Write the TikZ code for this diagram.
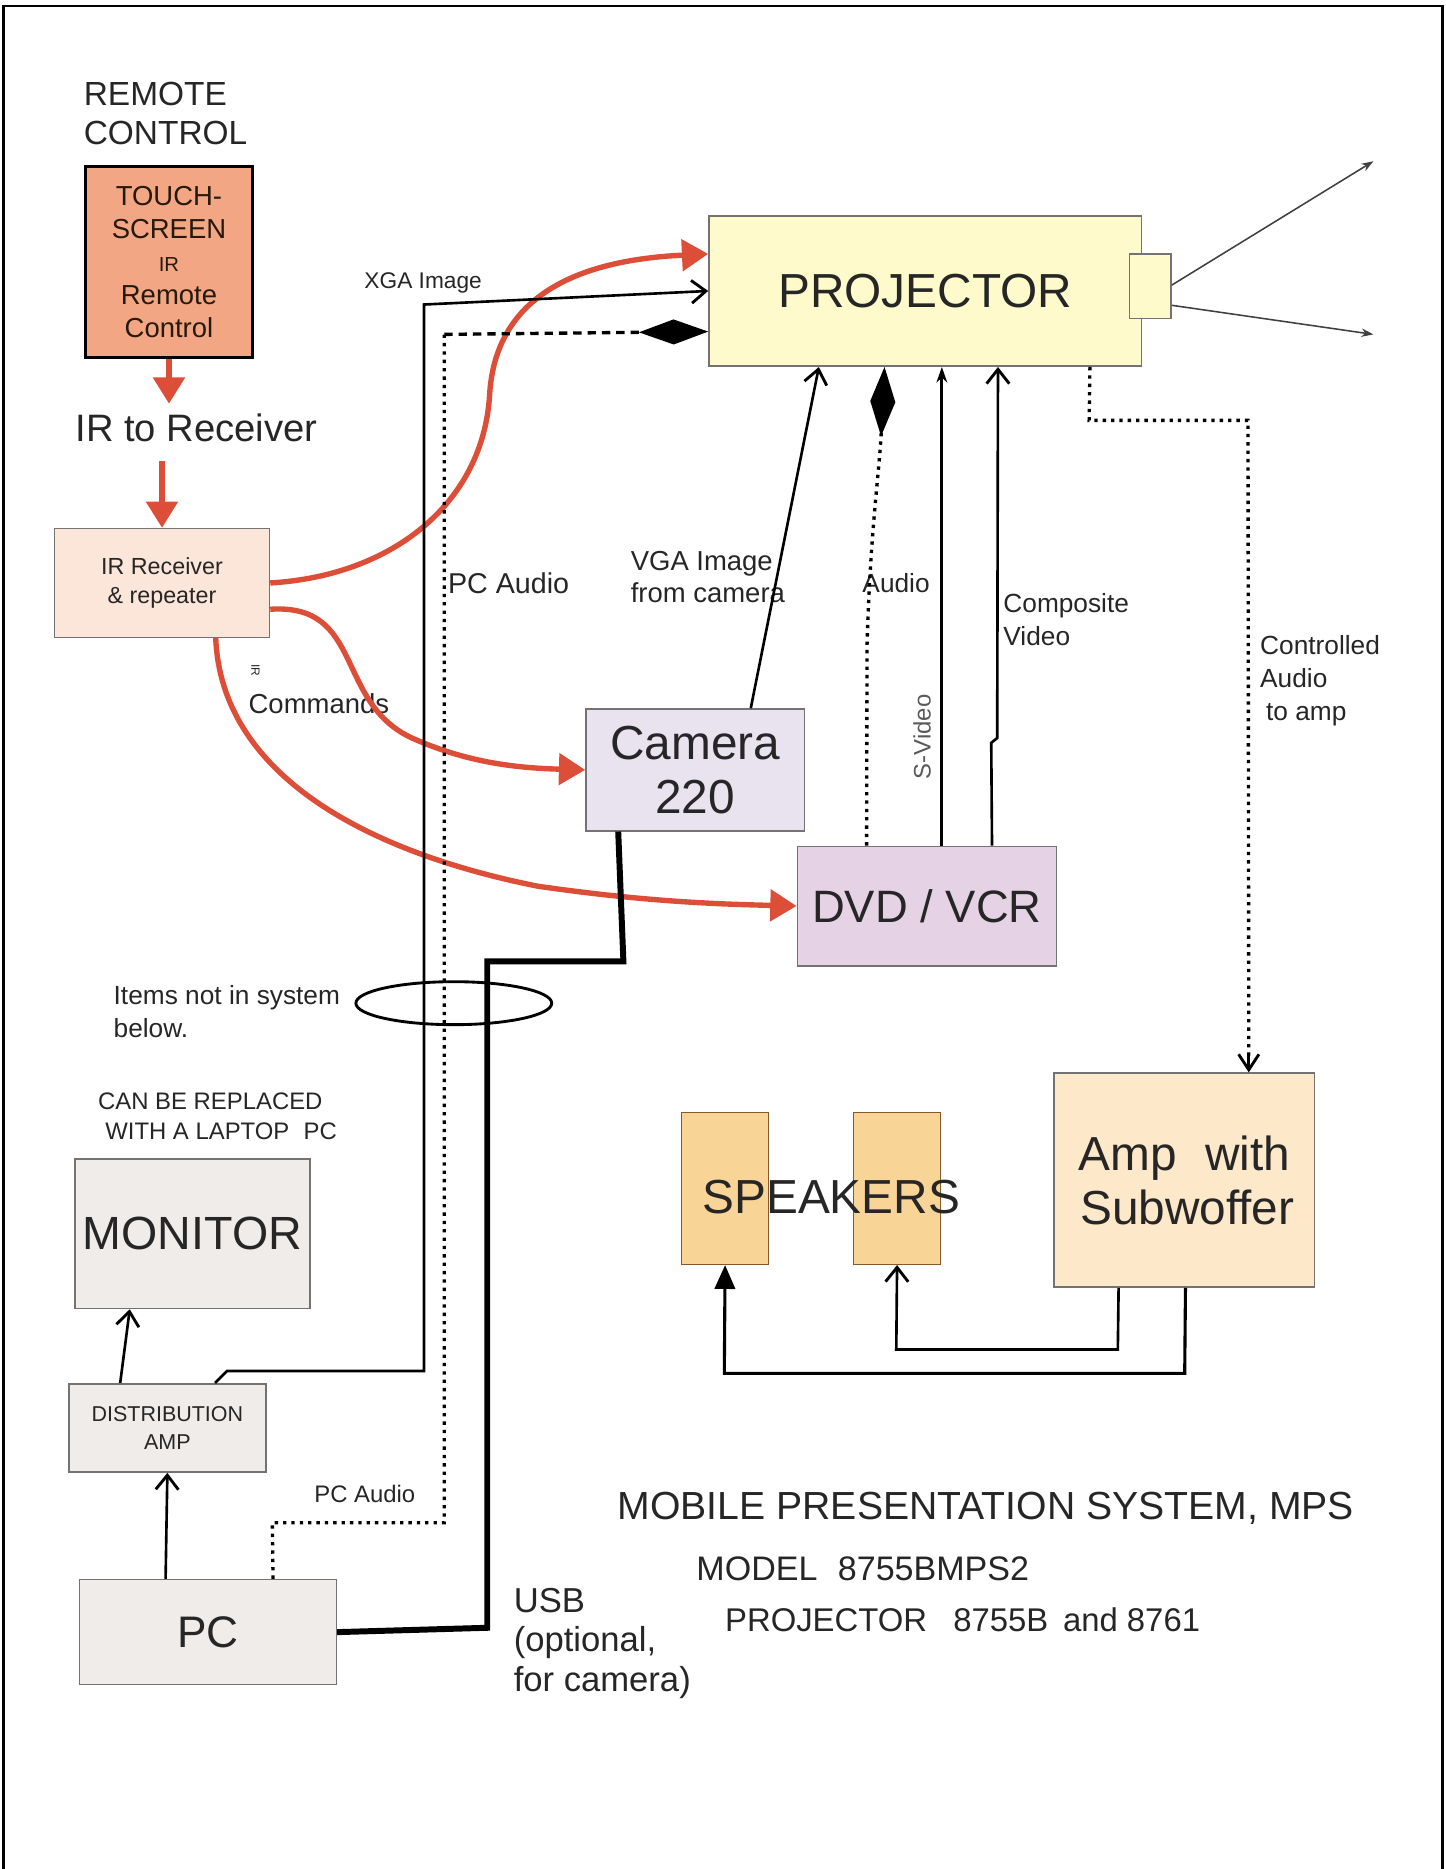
\documentclass[tikz,border=0pt]{standalone}
\usepackage{fontspec}
\setmainfont{Liberation Sans}
\usetikzlibrary{arrows.meta,shapes.geometric}
\definecolor{redc}{HTML}{DD4E38}
\definecolor{salmon}{HTML}{F3A684}
\definecolor{peach}{HTML}{FCE5D9}
\definecolor{projy}{HTML}{FEFACB}
\definecolor{camc}{HTML}{E9E2EF}
\definecolor{dvdc}{HTML}{E5D3E5}
\definecolor{grayc}{HTML}{EFECEA}
\definecolor{spkc}{HTML}{F8D497}
\definecolor{ampc}{HTML}{FDE8C9}
\definecolor{txt}{HTML}{262626}
\newcommand\fsz[2]{\fontsize{#1}{#2}\selectfont}
\tikzset{
  box/.style={draw=black!55, line width=1.3pt, anchor=north west, inner sep=0pt, align=center, text=txt},
  lbl/.style={anchor=west, inner sep=0pt, align=left, text=txt},
  redarr/.style={draw=redc, line width=4.5pt, -{Triangle[length=22pt,width=26pt]}},
  openarr/.style={line width=2.2pt, -{Straight Barb[length=12pt,width=19pt,line width=2.4pt]}},
  dotline/.style={line width=2.8pt, dash pattern=on 2.8pt off 4.2pt},
  dashline/.style={line width=2.8pt, dash pattern=on 7pt off 5pt},
}
\begin{document}
\begin{tikzpicture}[x=1pt,y=-1pt]
\useasboundingbox (0,0) rectangle (1210,1565);
% frame
\draw[line width=2pt] (3,1570) -- (3,5) -- (1208,5) -- (1208,1570);

% ---- nodes ----
\node[lbl, font=\fsz{28}{32}] (remtitle) at (70,95) {REMOTE\\CONTROL};
\node[box, draw=black, line width=3pt, fill=salmon, minimum width=140, minimum height=160, font=\fsz{23}{27.5}, text=black!80!brown] (touch) at (70,138) {TOUCH-\\SCREEN\\{\fsz{17}{27.5}IR}\\Remote\\Control};
\node[lbl, font=\fsz{32}{36}] (irtorec) at (63,358) {IR to Receiver};
\node[box, fill=peach, minimum width=180, minimum height=91, font=\fsz{19.5}{25}] (recv) at (45,442) {IR Receiver\\\& repeater};
\node[box, fill=projy, minimum width=362, minimum height=126, font=\fsz{40}{44}] (proj) at (593,180) {PROJECTOR};
\node[box, fill=projy, minimum width=35, minimum height=54] (lens) at (945,212) {};
\node[box, fill=camc, minimum width=183, minimum height=102, font=\fsz{40}{45}] (cam) at (490,593) {Camera\\220};
\node[box, fill=dvdc, minimum width=217, minimum height=100, font=\fsz{38}{42}] (dvd) at (667,708) {DVD / VCR};
\node[box, fill=grayc, minimum width=197, minimum height=125, font=\fsz{39}{42}] (mon) at (62,970) {MONITOR};
\node[box, fill=grayc, minimum width=165, minimum height=74, font=\fsz{18}{24}] (dist) at (57,1158) {DISTRIBUTION\\AMP};
\node[box, fill=grayc, minimum width=215, minimum height=88, font=\fsz{37}{40}] (pc) at (66,1322) {PC};
\node[box, draw=brown!70!black, fill=spkc, minimum width=73, minimum height=127] (spk1) at (570,931) {};
\node[box, draw=brown!70!black, fill=spkc, minimum width=73, minimum height=127] (spk2) at (714,931) {};
\node[lbl, font=\fsz{40}{44}] (spktxt) at (588,1002) {SPEAKERS};
\node[box, fill=ampc, minimum width=218, minimum height=179, font=\fsz{40}{45}] (amp) at (882,898) {Amp\hspace{0.6em}with\\\hspace{5pt}Subwoffer};
\node[draw, line width=2.4pt, ellipse, minimum width=164, minimum height=36, inner sep=0pt] (ell) at (380,840) {};

% ---- labels ----
\node[lbl, font=\fsz{19}{22}] (lxga) at (305,237) {XGA Image};
\node[lbl, font=\fsz{24}{28}] (lpca) at (375,488) {PC Audio};
\node[lbl, font=\fsz{23}{27}] (lvga) at (528,483) {VGA Image\\from camera};
\node[lbl, font=\fsz{22}{26}] (laud) at (722,488) {Audio};
\node[lbl, font=\fsz{22}{28}] (lcomp) at (840,519) {Composite\\Video};
\node[lbl, font=\fsz{22}{27.5}] (lctrl) at (1055,570) {Controlled\\Audio\\\hspace{5pt}to amp};
\node[inner sep=0pt, rotate=90, font=\fsz{20}{24}, text=black!65] (lsv) at (772,617) {S-Video};
\node[inner sep=0pt, rotate=-90, font=\fsz{10}{12}, text=txt] (lir) at (214,561) {IR};
\node[lbl, font=\fsz{23}{27}] (lcmd) at (208,589) {Commands};
\node[lbl, font=\fsz{22}{28}] (litems) at (95,847) {Items not in system\\below.};
\node[lbl, font=\fsz{20}{25}] (lcan) at (82,935) {CAN BE REPLACED\\\hspace{6pt}WITH A LAPTOP\hspace{0.6em}PC};
\node[lbl, font=\fsz{20}{24}] (lpca2) at (263,1251) {PC Audio};
\node[lbl, font=\fsz{29}{33}] (lusb) at (430,1376) {USB\\(optional,\\for camera)};
\node[lbl, font=\fsz{32.8}{36}] (title1) at (517,1263) {MOBILE PRESENTATION SYSTEM, MPS};
\node[lbl, font=\fsz{28.5}{32}] (title2) at (583,1314) {MODEL\hspace{0.6em}8755BMPS2};
\node[lbl, font=\fsz{27.5}{32}] (title3) at (607,1356) {PROJECTOR\hspace{0.8em}8755B\hspace{0.45em}and 8761};

\coordinate (beam1) at (1150,135);
\coordinate (beam2) at (1150,280);

% ---- red IR connectors ----
\draw[redarr] (touch.south) -- ([yshift=8pt]touch.south |- irtorec.north);
\draw[redarr] ([yshift=-16pt]irtorec.south -| recv.north) -- (recv.north);
\draw[redarr] (recv.east) .. controls (330,482) and (405,420) .. (410,330) .. controls (415,250) and (480,218) .. ([yshift=31pt]proj.west);
\draw[redarr] ([yshift=-22pt]recv.east) .. controls (305,505) and (280,588) .. (345,618) .. controls (390,638) and (430,643) .. (cam.west);
\draw[redarr] ([xshift=45pt]recv.south) .. controls (185,645) and (300,712) .. (450,742) .. controls (540,755) and (600,757) .. (dvd.west);

% ---- black connectors ----
% XGA image
\draw[openarr] ([xshift=40pt]dist.north) -- (190,1148) -- (355,1148) -- (355,255) -- (proj.west);
% PC audio
\coordinate (pcaud) at (372,280);
\draw[dotline] ([xshift=54.5pt]pc.north) -- (228,1275) -- (372,1275) -- (pcaud);
\draw[dashline, -{Diamond[length=58pt,width=21pt,sep=0pt]}] (pcaud) -- ([yshift=-34pt]proj.west);
% VGA image
\draw[openarr] ([xshift=46.5pt]cam.north) -- ([xshift=-89pt]proj.south);
% Audio
\draw[dotline, -{Diamond[length=58pt,width=21pt]}] ([xshift=-50.5pt]dvd.north) -- (726,540) .. controls (729,440) and (736,400) .. ([xshift=-34pt]proj.south);
% S-Video
\draw[line width=2.6pt, -{Stealth[length=13pt,width=9pt]}] ([xshift=12.5pt]dvd.north) -- ([xshift=12.5pt]dvd.north |- proj.south);
% Composite video
\draw[openarr] ([xshift=54.5pt]dvd.north) -- (830,622) -- (835,618) -- ([xshift=61pt]proj.south);
% Controlled audio
\draw[dotline] ([xshift=138pt]proj.south) -- (912,352) -- (1045,352) -- ([xshift=54pt,yshift=14pt]amp.north);
\draw[line width=2.2pt, -{Straight Barb[length=13pt,width=17pt,line width=2.4pt]}] ([xshift=54pt,yshift=16pt]amp.north) -- ([xshift=54pt]amp.north);
% lens beams
\draw[line width=1.3pt, black!75, -{Stealth[length=10pt,width=7pt]}] ([yshift=1pt]lens.east) -- (beam1);
\draw[line width=1.3pt, black!75, -{Stealth[length=10pt,width=7pt]}] ([yshift=-16pt]lens.east) -- (beam2);
% USB
\draw[line width=5pt] ([xshift=-64.5pt]cam.south) -- (522,805) -- (408,805) -- (408,1363) -- (pc.east);
% distribution -> monitor, pc -> distribution
\draw[openarr] ([xshift=-39.5pt]dist.north) -- ([xshift=-52.5pt]mon.south);
\draw[openarr] ([xshift=-35.5pt]pc.north) -- (dist.south);
% speaker wires
\draw[openarr] ([xshift=-55pt]amp.south) -- (936,1130) -- (750.5,1130) -- (spk2.south);
\draw[line width=2.6pt, -{Triangle[length=20pt,width=17pt]}] ([xshift=1pt]amp.south) -- (992,1150) -- (606.5,1150) -- (spk1.south);
\end{tikzpicture}
\end{document}
